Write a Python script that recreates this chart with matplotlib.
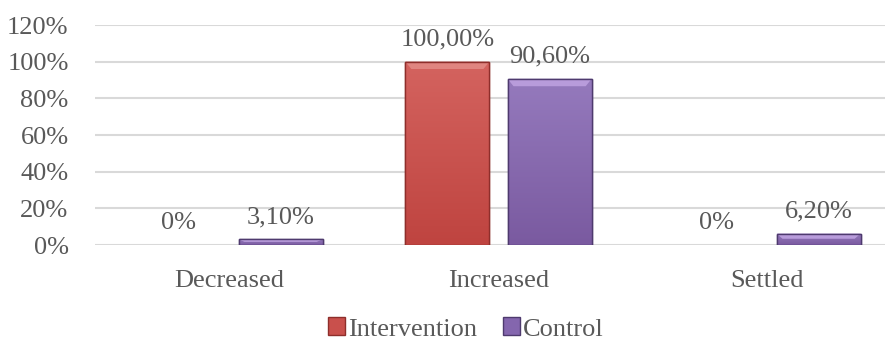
import matplotlib
matplotlib.use("Agg")
import matplotlib.pyplot as plt
import numpy as np
from matplotlib.patches import Patch
from matplotlib.colors import LinearSegmentedColormap

categories = ["Decreased", "Increased", "Settled"]
intervention = [0.0, 100.0, 0.0]
control = [3.1, 90.6, 6.2]
intervention_labels = ["0%", "100,00%", "0%"]
control_labels = ["3,10%", "90,60%", "6,20%"]
yticks = [0, 20, 40, 60, 80, 100, 120]
series_names = ["Intervention", "Control"]

plt.rcParams['font.family'] = ['Liberation Serif', 'DejaVu Serif']
TXT = '#595959'
FS = 19

fig = plt.figure(figsize=(8.85, 3.42), dpi=100)
ax = fig.add_axes([95/885, (342-245)/342, 807/885, 220/342])

x = np.arange(len(categories))
w = 0.312
off = 0.19
c_int, e_int = '#C9504C', '#8E2E2B'
c_ctl, e_ctl = '#8466AE', '#4E3A6E'
grad_int = LinearSegmentedColormap.from_list('gi', ['#BF4440', '#D4635F'])
grad_ctl = LinearSegmentedColormap.from_list('gc', ['#7A5AA0', '#957ABD'])

b1 = ax.bar(x - off, intervention, w, color=c_int, edgecolor=e_int, linewidth=1.0, zorder=3)
b2 = ax.bar(x + off, control, w, color=c_ctl, edgecolor=e_ctl, linewidth=1.0, zorder=3)

for bars, cmap, light in ((b1, grad_int, '#E08580'), (b2, grad_ctl, '#B89CDB')):
    for r in bars:
        h = r.get_height()
        if h <= 0:
            r.set_linewidth(0)
            continue
        x0 = r.get_x(); bw = r.get_width()
        grad = np.linspace(0, 1, 100).reshape(-1, 1)
        im = ax.imshow(grad, cmap=cmap, origin='lower', aspect='auto',
                       extent=[x0, x0 + bw, 0, h], zorder=3.5)
        im.set_clip_path(r)
        bh = min(4.0, h * 0.45)
        ax.fill([x0, x0 + bw, x0 + bw * 0.93, x0 + bw * 0.07],
                [h, h, h - bh, h - bh], color=light, lw=0, zorder=4)
        ax.bar(x0 + bw / 2, h, bw, fill=False, edgecolor=r.get_edgecolor(),
               linewidth=1.0, zorder=4.5)

for xi, v, lab in zip(x - off, intervention, intervention_labels):
    ax.annotate(lab, (xi, v), xytext=(0, 8), textcoords='offset points',
                ha='center', va='bottom', fontsize=FS, color=TXT)
for xi, v, lab in zip(x + off, control, control_labels):
    ax.annotate(lab, (xi, v), xytext=(0, 8), textcoords='offset points',
                ha='center', va='bottom', fontsize=FS, color=TXT)

ax.set_xlim(-0.5, 2.5)
ax.set_ylim(0, 120)
ax.set_yticks(yticks)
ax.set_yticklabels([f"{t}%" for t in yticks])
ax.set_xticks(x)
ax.set_xticklabels(categories)
ax.tick_params(axis='both', length=0, labelsize=FS, colors=TXT)
ax.tick_params(axis='y', pad=19)
ax.tick_params(axis='x', pad=18)
ax.yaxis.grid(True, color='#D9D9D9', linewidth=1.5, zorder=0)
ax.set_axisbelow(True)
for s in ax.spines.values():
    s.set_visible(False)

handles = [Patch(facecolor=c_int, edgecolor=e_int), Patch(facecolor=c_ctl, edgecolor=e_ctl)]
fig.legend(handles, series_names, loc='center', bbox_to_anchor=(466/885, 1 - 329/342),
           ncol=2, frameon=False, fontsize=FS, handlelength=0.65, handleheight=0.65,
           handletextpad=0.1, columnspacing=1.0, labelcolor=TXT)

fig.savefig("out.png", dpi=100)
